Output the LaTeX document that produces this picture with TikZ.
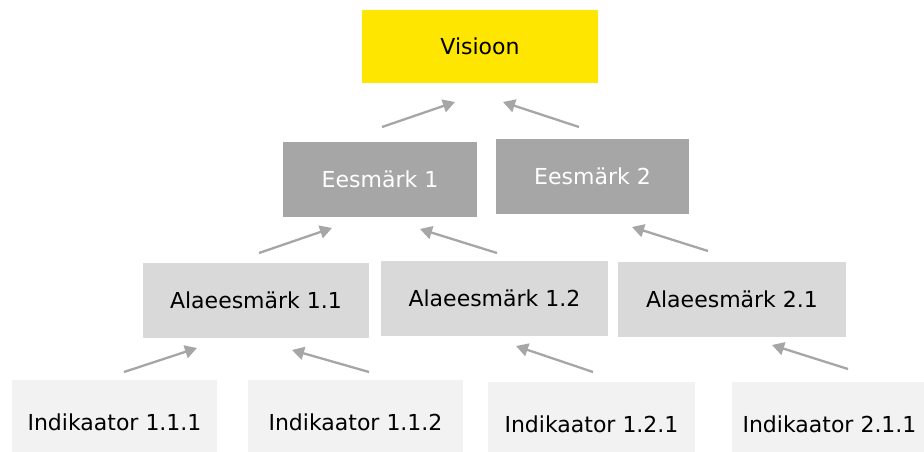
\documentclass[tikz,border=0pt]{standalone}
\usepackage{fontspec}
\setmainfont{DejaVu Sans}
\usepackage{tikz}
\usetikzlibrary{arrows.meta}
\usepackage{xcolor}

\begin{document}
\begin{tikzpicture}[x=1pt, y=-1pt,
    box/.style={rectangle, inner sep=0pt, font=\fontsize{22}{26}\selectfont},
    arr/.style={-{Triangle[length=12pt,width=13pt]}, line width=2.3pt, draw=clr4}]
      \definecolor{clr1}{RGB}{255,230,0}
      \definecolor{clr2}{RGB}{166,166,166}
      \definecolor{clr3}{RGB}{217,217,217}
      \definecolor{clr4}{RGB}{166,166,166}
      \definecolor{clr5}{RGB}{242,242,242}
      \useasboundingbox (0, 0) rectangle (924, 452);

      \node[box, fill=clr1, minimum width=236pt, minimum height=73pt] (vis) at (480, 46.5) {Visioon};

      \node[box, fill=clr2, text=white, minimum width=194pt, minimum height=75pt] (e1) at (380, 179.5) {Eesmärk 1};
      \node[box, fill=clr2, text=white, minimum width=193pt, minimum height=75pt] (e2) at (592.5, 176.5) {Eesmärk 2};

      \node[box, fill=clr3, minimum width=226pt, minimum height=75pt] (a11) at (256, 300.5) {Alaeesmärk 1.1};
      \node[box, fill=clr3, minimum width=227pt, minimum height=75pt] (a12) at (494.5, 298.5) {Alaeesmärk 1.2};
      \node[box, fill=clr3, minimum width=228pt, minimum height=75pt] (a21) at (732, 299.5) {Alaeesmärk 2.1};

      \node[box, fill=clr5, minimum width=205pt, minimum height=84pt] (i111) at (114.5, 422) {Indikaator 1.1.1};
      \node[box, fill=clr5, minimum width=215pt, minimum height=84pt] (i112) at (355.5, 422) {Indikaator 1.1.2};
      \node[box, fill=clr5, minimum width=207pt, minimum height=84pt] (i121) at (591.5, 424) {Indikaator 1.2.1};
      \node[box, fill=clr5, minimum width=195pt, minimum height=84pt] (i211) at (829.5, 424) {Indikaator 2.1.1};

      % arrow ends
      \coordinate (e1v) at (382, 127);   \coordinate (ve1) at (455, 102);
      \coordinate (e2v) at (579, 127);   \coordinate (ve2) at (503, 102);
      \coordinate (a11e) at (259, 253);  \coordinate (ea11) at (332, 228);
      \coordinate (a12e) at (497, 253);  \coordinate (ea12) at (420, 229);
      \coordinate (a21e) at (708, 251);  \coordinate (ea21) at (632, 227);
      \coordinate (i111a) at (124, 372); \coordinate (ai111) at (197, 348);
      \coordinate (i112a) at (369, 372); \coordinate (ai112) at (292, 350);
      \coordinate (i121a) at (593, 372); \coordinate (ai121) at (516, 346);
      \coordinate (i211a) at (848, 369); \coordinate (ai211) at (772, 345);

      \foreach \s/\t in {e1v/ve1, e2v/ve2, a11e/ea11, a12e/ea12, a21e/ea21,
                         i111a/ai111, i112a/ai112, i121a/ai121, i211a/ai211}
        \draw[arr] (\s) -- (\t);
    \end{tikzpicture}
\end{document}
